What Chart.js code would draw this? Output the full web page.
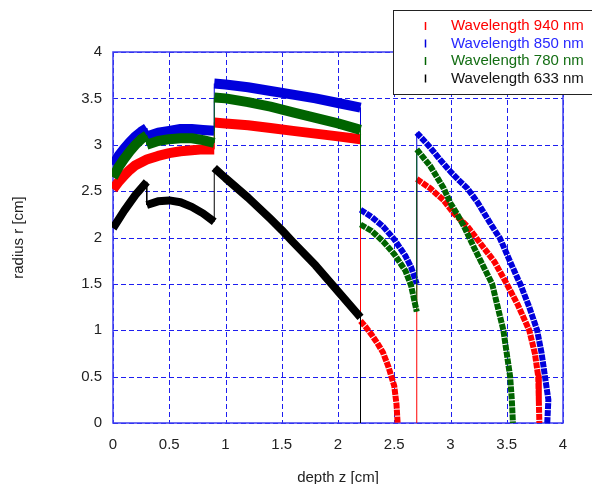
<!DOCTYPE html>
<html>
<head>
<meta charset="utf-8">
<script src="https://cdn.jsdelivr.net/npm/chart.js@4.4.1/dist/chart.umd.min.js"></script>
<style>
  html, body { margin: 0; padding: 0; background: #fff; }
  #wrap { width: 592px; height: 484px; }
</style>
</head>
<body>
<div id="wrap"><canvas id="radiusChart"></canvas></div>
<script>
//DATA
const axisTicks = [0, 0.5, 1, 1.5, 2, 2.5, 3, 3.5, 4];

const seriesLabels = ['Wavelength 940 nm', 'Wavelength 850 nm', 'Wavelength 780 nm', 'Wavelength 633 nm'];

// 940 nm (red)
const z940 = [0, 0.05, 0.1, 0.15, 0.2, 0.3, 0.4, 0.5, 0.6, 0.7, 0.8, 0.9,
    0.9, 1.0, 1.2, 1.4, 1.6, 1.8, 2.0, 2.2,
    2.2, 2.25, 2.3, 2.35, 2.4, 2.45, 2.5, 2.52, 2.53,
    2.6,
    2.7, 2.7, 2.82, 2.94, 3.03, 3.15, 3.27, 3.39, 3.5, 3.6, 3.7, 3.75, 3.78, 3.785, 3.79];
const r940 = [2.52, 2.6, 2.67, 2.73, 2.78, 2.84, 2.88, 2.91, 2.93, 2.94, 2.95, 2.95,
    3.24, 3.23, 3.21, 3.18, 3.15, 3.12, 3.09, 3.06,
    1.1, 1.03, 0.95, 0.86, 0.76, 0.6, 0.4, 0.2, 0,
    null,
    0, 2.63, 2.53, 2.4, 2.26, 2.12, 1.93, 1.74, 1.5, 1.27, 1.0, 0.75, 0.5, 0.25, 0];

// 850 nm (blue)
const z850 = [0, 0.05, 0.1, 0.15, 0.2, 0.25, 0.3,
    0.3, 0.4, 0.5, 0.6, 0.7, 0.8, 0.9,
    0.9, 1.0, 1.2, 1.4, 1.6, 1.8, 2.0, 2.2,
    2.2, 2.3, 2.4, 2.5, 2.6, 2.65, 2.7,
    2.7, 2.82, 2.9, 3.0, 3.08, 3.15, 3.24, 3.3, 3.36, 3.44, 3.53, 3.6, 3.62, 3.7, 3.77, 3.81, 3.84, 3.87, 3.86];
const r850 = [2.78, 2.88, 2.96, 3.03, 3.09, 3.14, 3.18,
    3.09, 3.13, 3.15, 3.17, 3.17, 3.16, 3.15,
    3.66, 3.65, 3.62, 3.58, 3.54, 3.5, 3.45, 3.4,
    2.3, 2.22, 2.12, 1.98, 1.8, 1.68, 1.5,
    3.13, 2.97, 2.85, 2.71, 2.61, 2.53, 2.38, 2.26, 2.14, 1.99, 1.74, 1.55, 1.5, 1.25, 1.0, 0.75, 0.5, 0.25, 0];

// 780 nm (green)
const z780 = [0, 0.05, 0.1, 0.15, 0.2, 0.25, 0.3,
    0.3, 0.4, 0.5, 0.6, 0.7, 0.8, 0.9,
    0.9, 1.0, 1.2, 1.4, 1.6, 1.8, 2.0, 2.2,
    2.2, 2.3, 2.4, 2.5, 2.6, 2.65, 2.7,
    2.7, 2.82, 2.94, 3.0, 3.06, 3.12, 3.21, 3.3, 3.37, 3.42, 3.47, 3.5, 3.53, 3.545, 3.555];
const r780 = [2.65, 2.76, 2.85, 2.93, 3.0, 3.06, 3.1,
    3.0, 3.04, 3.06, 3.07, 3.07, 3.05, 3.02,
    3.51, 3.5, 3.46, 3.41, 3.35, 3.29, 3.23, 3.16,
    2.14, 2.07, 1.96, 1.82, 1.64, 1.48, 1.2,
    2.95, 2.77, 2.53, 2.37, 2.25, 2.12, 1.89, 1.67, 1.5, 1.25, 1.0, 0.75, 0.5, 0.25, 0];

// 633 nm (black)
const z633 = [0, 0.1, 0.2, 0.3,
    0.3, 0.4, 0.5, 0.6, 0.7, 0.8, 0.9,
    0.9, 1.0, 1.2, 1.4, 1.5, 1.6, 1.8, 2.0, 2.1, 2.2,
    2.2];
const r633 = [2.1, 2.29, 2.46, 2.6,
    2.35, 2.39, 2.4, 2.38, 2.33, 2.26, 2.17,
    2.75, 2.64, 2.43, 2.2, 2.08, 1.95, 1.7, 1.42, 1.28, 1.14,
    0];

const lineColors = ['rgb(255, 0, 0)', 'rgb(0, 0, 220)', 'rgb(0, 100, 0)', 'rgb(0, 0, 0)'];
const textColors = ['rgb(255, 0, 0)', 'rgb(40, 40, 255)', 'rgb(20, 110, 20)', 'rgb(20, 20, 20)'];

function toPoints(zs, rs) {
    return zs.map((z, i) => ({ x: z, y: rs[i] }));
}

const isJump = ctx => ctx.p0.parsed.x === ctx.p1.parsed.x;

// thin line for the jumps, thick band elsewhere
function bandWidth(near, far) {
    return ctx => {
        if (isJump(ctx)) return 1;
        return ctx.p1.parsed.x <= 2.2 ? near : far;
    };
}

// the far bands are made of loose vertical strokes
function bandDash(ctx) {
    if (isJump(ctx) || ctx.p1.parsed.x <= 2.2) return [];
    return [6, 1];
}

function makeSet(i, zs, rs, near, far, order) {
    return {
        label: seriesLabels[i],
        data: toPoints(zs, rs),
        borderColor: lineColors[i],
        borderWidth: near,
        borderJoinStyle: 'round',
        showLine: true,
        pointRadius: 0,
        clip: 1,
        order: order,
        segment: { borderWidth: bandWidth(near, far), borderDash: bandDash }
    };
}

//PLUGINS
// dashed grid and solid frame, placed with the chart's own scales
const frame = {
    id: 'frame',
    beforeDatasetsDraw(chart) {
        const { ctx, chartArea: a, scales } = chart;
        ctx.save();
        ctx.strokeStyle = 'rgb(30, 30, 240)';
        ctx.lineWidth = 1;
        ctx.setLineDash([5, 3]);
        axisTicks.forEach(v => {
            const px = Math.round(scales.x.getPixelForValue(v)) + 0.5;
            const py = Math.round(scales.y.getPixelForValue(v)) + 0.5;
            ctx.beginPath();
            ctx.moveTo(px, a.top);
            ctx.lineTo(px, a.bottom);
            ctx.moveTo(a.left, py);
            ctx.lineTo(a.right, py);
            ctx.stroke();
        });
        ctx.setLineDash([]);
        ctx.strokeStyle = 'rgb(60, 60, 240)';
        ctx.lineWidth = 1.5;
        ctx.strokeRect(a.left, a.top, a.right - a.left, a.bottom - a.top);
        ctx.restore();
    }
};

const boxLegend = {
    id: 'boxLegend',
    afterDraw(chart) {
        const ctx = chart.ctx;
        ctx.save();
        ctx.fillStyle = '#fff';
        ctx.fillRect(393.5, 10.5, 220, 84);
        ctx.strokeStyle = '#222';
        ctx.lineWidth = 1;
        ctx.strokeRect(393.5, 10.5, 220, 84);
        ctx.font = '15px "Liberation Sans", Arial, sans-serif';
        ctx.textBaseline = 'middle';
        chart.data.datasets.forEach((ds, i) => {
            const y = 26 + i * 17.5;
            ctx.strokeStyle = ds.borderColor;
            ctx.lineWidth = 1.5;
            ctx.beginPath();
            ctx.moveTo(425.5, y - 4);
            ctx.lineTo(425.5, y + 4);
            ctx.stroke();
            ctx.fillStyle = textColors[i];
            ctx.fillText(ds.label, 451, y);
        });
        ctx.restore();
    }
};

//CONFIG
const tickFont = { family: '"Liberation Sans", Arial, sans-serif', size: 15 };

const config = {
    type: 'scatter',
    data: {
        datasets: [
            makeSet(0, z940, r940, 10, 6, 3),
            makeSet(1, z850, r850, 10, 6, 2),
            makeSet(2, z780, r780, 10, 6, 0),
            makeSet(3, z633, r633, 8, 8, 1)
        ]
    },
    options: {
        responsive: true,
        maintainAspectRatio: false,
        animation: false,
        layout: { padding: { left: 0, top: 52, right: 29, bottom: 0 } },
        plugins: {
            legend: { display: false },
            tooltip: { enabled: false }
        },
        scales: {
            x: {
                type: 'linear',
                min: 0,
                max: 4,
                afterBuildTicks: s => { s.ticks = axisTicks.map(v => ({ value: v })); },
                afterFit: s => { s.height = 61; },
                grid: { display: false, drawTicks: false },
                border: { display: false },
                ticks: { padding: 13, color: '#222', font: tickFont, maxRotation: 0, callback: v => String(v) },
                title: {
                    display: true,
                    text: 'depth z [cm]',
                    color: '#222',
                    font: tickFont,
                    padding: { top: 0, bottom: -3 }
                }
            },
            y: {
                type: 'linear',
                min: 0,
                max: 4,
                afterBuildTicks: s => { s.ticks = axisTicks.map(v => ({ value: v })); },
                afterFit: s => { s.width = 113; },
                grid: { display: false, drawTicks: false },
                border: { display: false },
                ticks: { padding: 11, color: '#222', font: tickFont, callback: v => String(v) },
                title: {
                    display: true,
                    text: 'radius r [cm]',
                    color: '#222',
                    font: tickFont,
                    padding: { top: 10, bottom: 0 }
                }
            }
        }
    },
    plugins: [frame, boxLegend]
};

//RENDER
const radiusChart = new Chart(document.getElementById('radiusChart'), config);
</script>
</body>
</html>
